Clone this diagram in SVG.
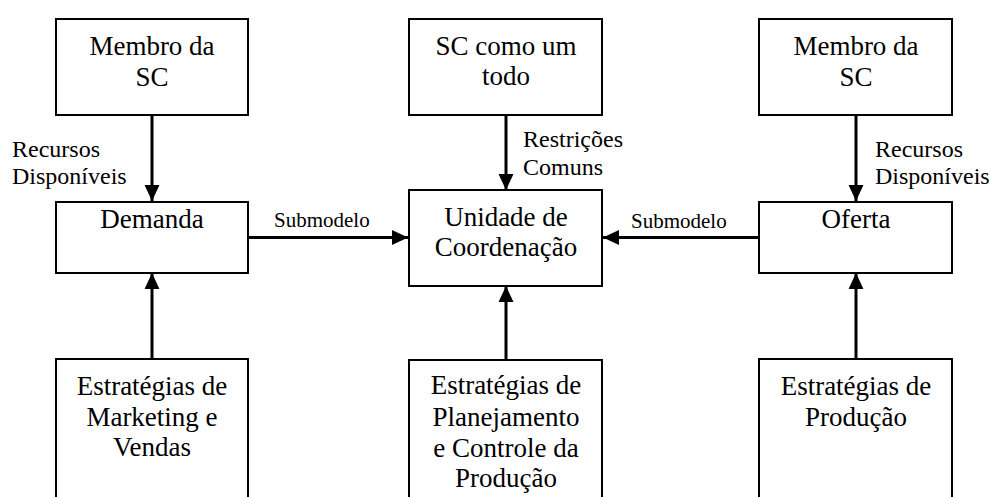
<svg xmlns="http://www.w3.org/2000/svg" width="990" height="497" viewBox="0 0 990 497">
<style>
.box{fill:#fff;stroke:#000;stroke-width:2}
.t{font-size:27px;text-anchor:middle}
.l{font-size:24px}
.s{font-size:21px}
.c{stroke:#000;stroke-width:3;fill:none;marker-end:url(#ah)}
</style>
<defs>
<marker id="ah" markerUnits="userSpaceOnUse" markerWidth="16" markerHeight="16" viewBox="0 0 15 14" refX="15" refY="7" orient="auto">
<path d="M0,0 L15,7 L0,14 Z" fill="#000"/>
</marker>
</defs>
<rect width="990" height="497" fill="#fff"/>
<g font-family="Liberation Serif, DejaVu Serif, serif" fill="#000">
<g id="connectors">
<line class="c" x1="152" y1="115" x2="152" y2="201"/>
<line class="c" x1="506" y1="115" x2="506" y2="190"/>
<line class="c" x1="856" y1="115" x2="856" y2="201"/>
<line class="c" x1="152" y1="359" x2="152" y2="273"/>
<line class="c" x1="506" y1="360" x2="506" y2="286"/>
<line class="c" x1="856" y1="359" x2="856" y2="273"/>
<line class="c" x1="248" y1="237.5" x2="408" y2="237.5"/>
<line class="c" x1="759" y1="237.5" x2="603" y2="237.5"/>
<text class="l" x="12" y="157">Recursos</text>
<text class="l" x="12" y="184">Disponíveis</text>
<text class="l" x="523" y="147">Restrições</text>
<text class="l" x="523" y="175">Comuns</text>
<text class="l" x="875" y="157">Recursos</text>
<text class="l" x="875" y="184">Disponíveis</text>
<text class="s" x="274" y="227">Submodelo</text>
<text class="s" x="631" y="228">Submodelo</text>
</g>
<g id="membro-left">
<rect class="box" x="56" y="19" width="192" height="96"/>
<text class="t" x="152" y="55">Membro da</text>
<text class="t" x="152" y="86">SC</text>
</g>
<g id="sc-todo">
<rect class="box" x="409" y="19" width="193" height="96"/>
<text class="t" x="506" y="55">SC como um</text>
<text class="t" x="506" y="85">todo</text>
</g>
<g id="membro-right">
<rect class="box" x="759" y="19" width="193" height="96"/>
<text class="t" x="856" y="55">Membro da</text>
<text class="t" x="856" y="86">SC</text>
</g>
<g id="demanda">
<rect class="box" x="56" y="202" width="192" height="71"/>
<text class="t" x="152" y="228">Demanda</text>
</g>
<g id="unidade">
<rect class="box" x="409" y="190" width="193" height="96"/>
<text class="t" x="506" y="226">Unidade de</text>
<text class="t" x="506" y="256">Coordenação</text>
</g>
<g id="oferta">
<rect class="box" x="759" y="202" width="193" height="71"/>
<text class="t" x="856" y="228">Oferta</text>
</g>
<g id="marketing">
<rect class="box" x="56" y="359" width="192" height="160"/>
<text class="t" x="152" y="395">Estratégias de</text>
<text class="t" x="152" y="426">Marketing e</text>
<text class="t" x="152" y="456">Vendas</text>
</g>
<g id="planejamento">
<rect class="box" x="409" y="360" width="193" height="160"/>
<text class="t" x="506" y="394">Estratégias de</text>
<text class="t" x="506" y="426">Planejamento</text>
<text class="t" x="506" y="457">e Controle da</text>
<text class="t" x="506" y="487">Produção</text>
</g>
<g id="producao">
<rect class="box" x="759" y="359" width="193" height="160"/>
<text class="t" x="856" y="395">Estratégias de</text>
<text class="t" x="856" y="426">Produção</text>
</g>
</g>
</svg>
